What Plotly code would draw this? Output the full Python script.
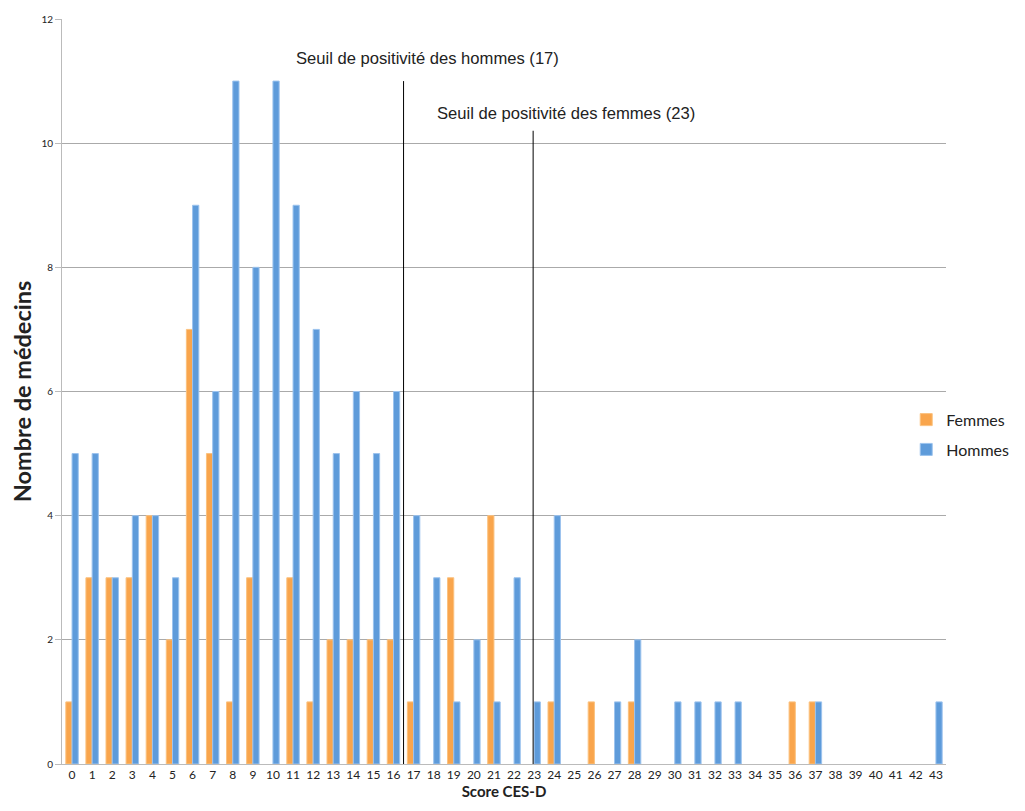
import plotly.graph_objects as go

scores = list(range(44))
femmes = [1, 3, 3, 3, 4, 2, 7, 5, 1, 3, 0, 3, 1, 2, 2, 2, 2, 1, 0, 3, 0, 4, 0, 0,
          1, 0, 1, 0, 1, 0, 0, 0, 0, 0, 0, 0, 1, 1, 0, 0, 0, 0, 0, 0]
hommes = [5, 5, 3, 4, 4, 3, 9, 6, 11, 8, 11, 9, 7, 5, 6, 5, 6, 4, 3, 1, 2, 1, 3, 1,
          4, 0, 0, 1, 2, 0, 1, 1, 1, 1, 0, 0, 0, 1, 0, 0, 0, 0, 0, 1]
seuil_hommes = 16.5
seuil_femmes = 23
y_ticks = [0, 2, 4, 6, 8, 10, 12]

def nz(vals):
    return [v if v else None for v in vals]

fig = go.Figure()
fig.add_trace(go.Bar(x=scores, y=nz(femmes), name="Femmes", legendgroup="f",
                     marker=dict(color="#F9A54C", line=dict(color="#FBC27F", width=1))))
fig.add_trace(go.Bar(x=scores, y=nz(hommes), name="Hommes", legendgroup="h",
                     marker=dict(color="#5E9BDA", line=dict(color="#9CC3EE", width=1))))

fig.add_shape(type="line", xref="x", yref="y", x0=seuil_hommes, x1=seuil_hommes,
              y0=-0.1, y1=11, line=dict(color="black", width=1))
fig.add_shape(type="line", xref="x", yref="y", x0=seuil_femmes - 0.05, x1=seuil_femmes - 0.05,
              y0=-0.1, y1=10.2, line=dict(color="black", width=1))

fig.add_annotation(x=17.67, y=11.37, xref="x", yref="y", showarrow=False,
                   text="Seuil de positivité des hommes (17)",
                   font=dict(family="Liberation Sans", size=16.6, color="#222"))
fig.add_annotation(x=24.59, y=10.47, xref="x", yref="y", showarrow=False,
                   text="Seuil de positivité des femmes (23)",
                   font=dict(family="Liberation Sans", size=16.6, color="#222"))

# page body has an 8px default margin: figure is sized/offset to compensate
fig.update_layout(
    width=1017, height=803,
    margin=dict(l=54, r=79, t=11, b=47),
    plot_bgcolor="white", paper_bgcolor="white",
    barmode="group", bargap=0.38, bargroupgap=0.0,
    font=dict(family="Lato, Open Sans, sans-serif", color="#222"),
    legend=dict(x=0.955, y=0.442, xanchor="left", yanchor="middle",
                font=dict(size=16, family="Lato, sans-serif"), tracegroupgap=6,
                bgcolor="rgba(0,0,0,0)"),
    xaxis=dict(range=[-0.5, 43.5], tickmode="array", tickvals=scores,
               ticktext=[str(s) for s in scores], tickfont=dict(size=12),
               showgrid=False, showline=True, linecolor="#BBBBBB", linewidth=1,
               ticks="", zeroline=False, automargin=False,
               title=dict(text="<b>Score CES-D</b>", font=dict(size=15), standoff=4)),
    yaxis=dict(range=[0, 12], tickvals=y_ticks, tickfont=dict(size=10),
               showgrid=True, gridcolor="#AAAAAA", gridwidth=1,
               showline=True, linecolor="#BBBBBB", linewidth=1,
               ticks="outside", ticklen=6, tickcolor="#BBBBBB", zeroline=False,
               automargin=False,
               title=dict(text="<b>Nombre de médecins</b>", font=dict(size=23.5), standoff=10)),
)

fig.write_html("out.html")
